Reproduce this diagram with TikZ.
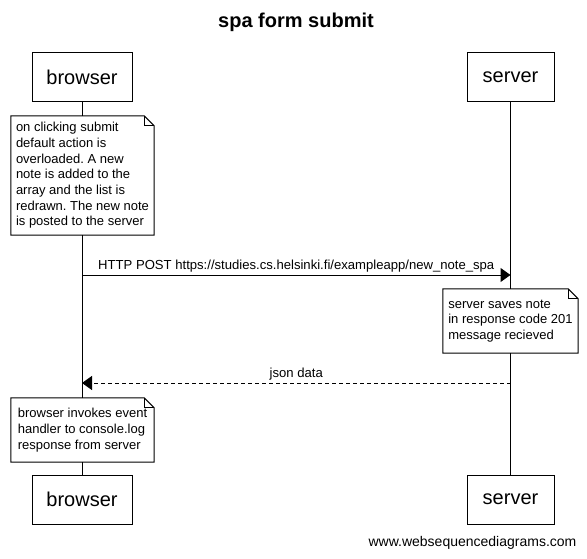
\documentclass[tikz,border=0pt]{standalone}
\usepackage{fontspec}
\setmainfont{Liberation Sans}
\usetikzlibrary{arrows.meta}
\frenchspacing

\tikzset{
  actor/.style={draw, line width=1pt, minimum width=100pt, minimum height=49pt,
    font=\fontsize{20}{24}\selectfont},
  note/.style={fill=white, align=left, inner sep=0pt, minimum width=143pt,
    minimum height=64pt, font=\fontsize{13}{15.7}\selectfont},
  msg/.style={line width=1pt, -{Triangle[length=10pt, width=14pt]}},
  msglabel/.style={above, inner sep=2pt, font=\fontsize{13.1}{15.7}\selectfont},
}

% outline of a note with its folded corner
\newcommand{\notefold}[1]{%
  \draw [line width=1pt] (#1.north west) -- ([xshift=-10pt]#1.north east)
        -- ([yshift=-10pt]#1.north east) -- (#1.south east)
        -- (#1.south west) -- cycle;
  \draw [line width=1pt] ([xshift=-10pt]#1.north east) |- ([yshift=-10pt]#1.north east);
}

\begin{document}
\begin{tikzpicture}[x=1pt, y=-1pt]
    \useasboundingbox (0, 0) rectangle (587, 559);

    % title
    \node [font=\fontsize{20}{24}\selectfont\bfseries] (title) at (296, 22) {spa form submit};

    % participants, top and bottom
    \node [actor] (browser top) at (82, 77.5) {browser};
    \node [actor, minimum width=87pt] (server top) at (510.5, 77.5) {server};
    \node [actor] (browser bottom) at (82, 499.5) {browser};
    \node [actor, minimum width=87pt] (server bottom) at (510.5, 499.5) {server};

    % lifelines
    \draw [line width=1pt] (browser top) -- (browser bottom);
    \draw [line width=1pt] (server top) -- (server bottom);

    % notes
    \node [note, minimum height=119pt] (click note) at (82.5, 175.5)
          {on clicking submit\\default action is\\overloaded. A new\\note is added to the\\array and the list is\\redrawn. The new note\\is posted to the server};
    \notefold{click note}

    \node [note, minimum width=135pt] (save note) at (510.5, 321)
          {server saves note\\in response code 201\\message recieved};
    \notefold{save note}

    \node [note] (log note) at (82.5, 430)
          {browser invokes event\\handler to console.log\\response from server};
    \notefold{log note}

    % messages
    \coordinate (post start) at (82, 275);
    \coordinate (post end) at (510.5, 275);
    \draw [msg] (post start) -- (post end)
          node [msglabel, midway] {HTTP POST https://studies.cs.helsinki.fi/exampleapp/new\_note\_spa};

    \coordinate (json start) at (510.5, 383);
    \coordinate (json end) at (82, 383);
    \draw [msg, dash pattern=on 4pt off 3pt] (json start) -- (json end)
          node [msglabel, midway] {json data};

    % watermark
    \node [font=\fontsize{14}{16}\selectfont] (watermark) at (472.5, 543) {www.websequencediagrams.com};
\end{tikzpicture}
\end{document}
